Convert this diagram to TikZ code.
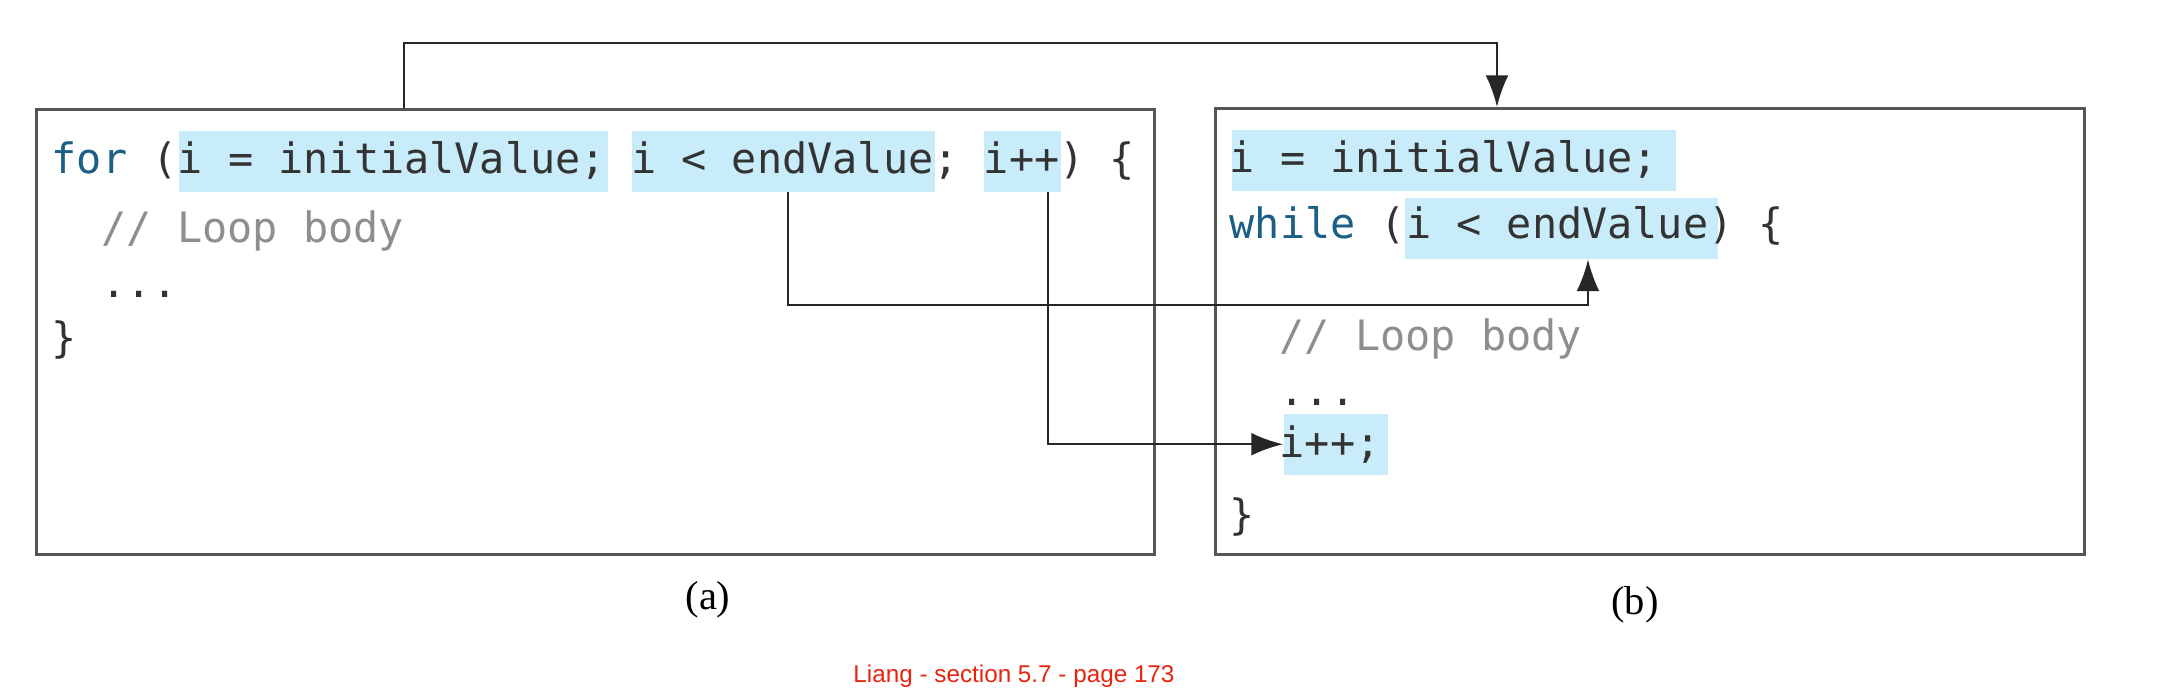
\documentclass[tikz,border=0pt]{standalone}
\usepackage{fontspec}
\setmainfont{Liberation Serif}
\newfontfamily\codefont{DejaVu Sans Mono}
\newfontfamily\notefont{Liberation Sans}
\usetikzlibrary{arrows.meta}
\definecolor{hlblue}{HTML}{C9ECFB}
\definecolor{kwblue}{HTML}{1B5E86}
\definecolor{codegray}{HTML}{333333}
\definecolor{cmtgray}{HTML}{8E8E8E}
\definecolor{framegray}{HTML}{555555}
\definecolor{notered}{HTML}{E8230F}
\begin{document}
\begin{tikzpicture}[x=0.01cm,y=-0.01cm,
  codeline/.style={anchor=base west, inner sep=0pt, font=\codefont\fontsize{11.9pt}{14pt}\selectfont, text=codegray},
  hlbox/.style={fill=hlblue, inner sep=0pt, anchor=north west, minimum height=0.61cm},
  frame/.style={draw=framegray, line width=0.9pt, inner sep=0pt, anchor=north west},
  conn/.style={draw=black!85, line width=0.65pt},
  arr/.style={conn, -{Latex[length=9pt,width=6.5pt]}},
  caption/.style={inner sep=0pt, anchor=base, font=\fontsize{11.5pt}{14pt}\selectfont}
]
\useasboundingbox (0,0) rectangle (2178,694);
% frames
\node[frame, minimum width=11.17cm, minimum height=4.45cm] (boxa) at (35,108) {};
\node[frame, minimum width=8.68cm, minimum height=4.46cm] (boxb) at (1214,107) {};
% highlights
\node[hlbox, minimum width=4.29cm] (ha1) at (178,130) {};
\node[hlbox, minimum width=3.03cm] (ha2) at (631,130) {};
\node[hlbox, minimum width=0.77cm] (ha3) at (983,130) {};
\node[hlbox, minimum width=4.44cm] (hb1) at (1231,129) {};
\node[hlbox, minimum width=3.13cm] (hb2) at (1404,197) {};
\node[hlbox, minimum width=1.04cm] (hb3) at (1283,413) {};
% code (a)
\node[codeline] (a1) at (51,173) {{\color{kwblue}for} (i = initialValue; i < endValue; i++) \{};
\node[codeline, text=cmtgray] (a2) at (101,242) {// Loop body};
\node[codeline] (a3) at (101,297) {...};
\node[codeline] (a4) at (51,352) {\}};
% code (b)
\node[codeline] (b1) at (1229,172) {i = initialValue;};
\node[codeline] (b2) at (1229,238) {{\color{kwblue}while} (i < endValue) \{};
\node[codeline, text=cmtgray] (b3) at (1279,350) {// Loop body};
\node[codeline] (b4) at (1279,405) {...};
\node[codeline] (b5) at (1279,457) {i++;};
\node[codeline] (b6) at (1229,529) {\}};
% captions
\node[caption] (capa) at (708,609) {(a)};
\node[caption] (capb) at (1635,614) {(b)};
\node[inner sep=0pt, anchor=base, font=\notefont\fontsize{6.9pt}{8pt}\selectfont, text=notered] (note) at (1014,682) {Liang - section 5.7 - page 173};
% connectors
\coordinate (topr) at (1497,43);
\coordinate (midr) at (1588,305);
\draw[arr] (404,0 |- boxa.north) |- (topr) -- (1497,0 |- boxb.north);
\draw[arr] (788,0 |- ha2.south) |- (midr) -- (1588,0 |- hb2.south);
\draw[arr] (1048,0 |- ha3.south) |- (hb3.west);
\end{tikzpicture}
\end{document}
